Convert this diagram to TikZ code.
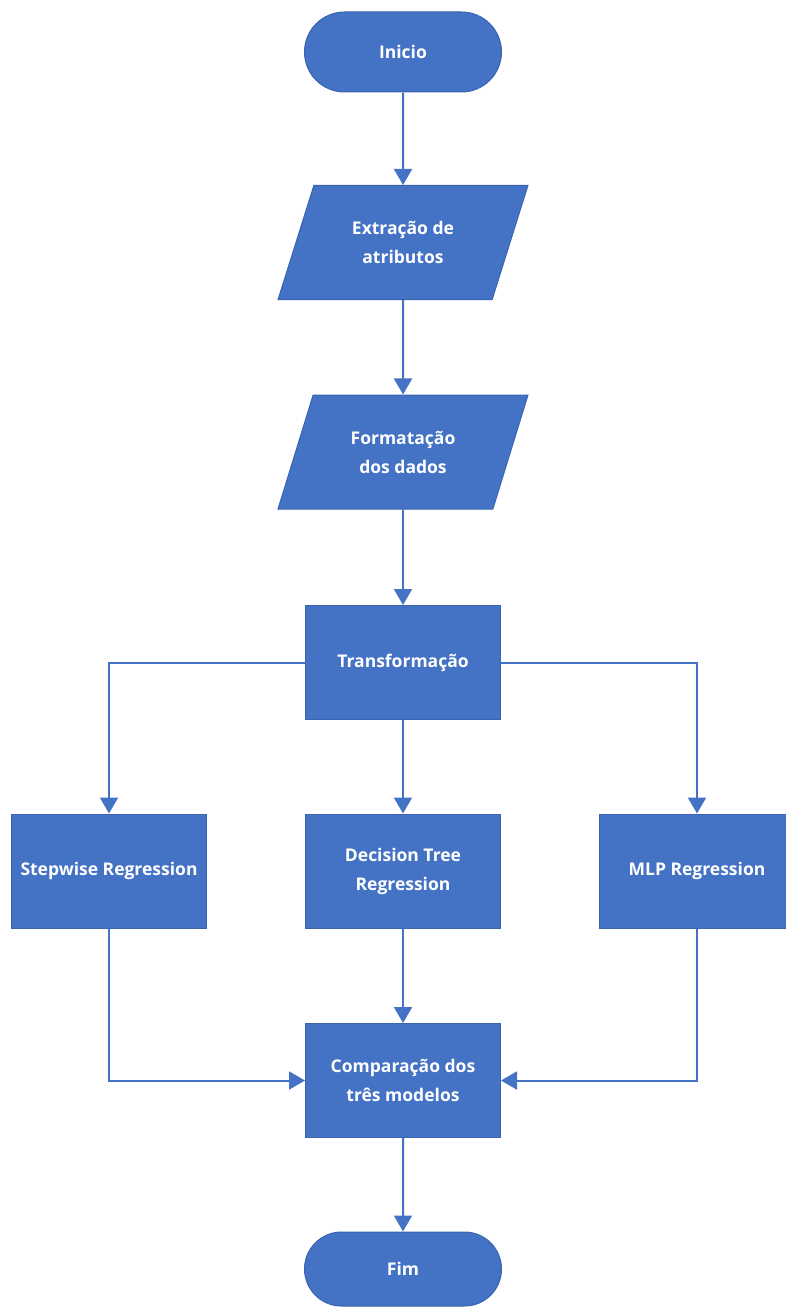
\documentclass[tikz,border=0pt]{standalone}
\usepackage{fontspec}
\setmainfont{Open Sans}
\usetikzlibrary{shapes.geometric,shapes.misc,arrows.meta}
\definecolor{fillblue}{HTML}{4472C4}
\definecolor{edgeblue}{HTML}{3A64B0}
\begin{document}
\begin{tikzpicture}[x=1pt,y=-1pt,
  base/.style={fill=fillblue,draw=edgeblue,line width=1pt,text=white,
    font=\fontsize{17.5}{29}\selectfont\bfseries,align=center,inner sep=0pt},
  term/.style={base,rounded rectangle,minimum width=197pt,minimum height=80pt},
  procbox/.style={base,rectangle,minimum width=195pt,minimum height=114pt},
  iobox/.style={base,trapezium,trapezium left angle=64.25,trapezium right angle=115.75,
    minimum width=250pt,minimum height=114pt,trapezium stretches=true},
  conn/.style={draw=fillblue,line width=2pt,-{Triangle[length=16pt,width=18pt]}}
]
\useasboundingbox (0,0) rectangle (785,1308);
\fill[white] (0,0) rectangle (785,1308);
\node[term] (ini) at (403,52) {Inicio};
\node[iobox] (ext) at (403,242.5) {Extração de\\atributos};
\node[iobox] (fmt) at (403,452) {Formatação\\dos dados};
\node[procbox] (tr) at (403,662.5) {Transformação};
\node[procbox] (sw) at (109,871) {Stepwise Regression};
\node[procbox] (dt) at (403,871) {Decision Tree\\Regression};
\node[procbox] (mlp) at (697,871) {MLP Regression};
\node[procbox] (cmp) at (403,1080.5) {Comparação dos\\três modelos};
\node[term,minimum height=74pt] (fim) at (403,1269) {Fim};
\draw[conn] (ini) -- (ext);
\draw[conn] (ext) -- (fmt);
\draw[conn] (fmt) -- (tr);
\draw[conn] (tr) -- (dt);
\draw[conn] (tr.west) -| (sw.north);
\draw[conn] (tr.east) -| (mlp.north);
\draw[conn] (dt) -- (cmp);
\draw[conn] (sw.south) |- (cmp.west);
\draw[conn] (mlp.south) |- (cmp.east);
\draw[conn] (cmp) -- (fim);
\end{tikzpicture}
\end{document}
